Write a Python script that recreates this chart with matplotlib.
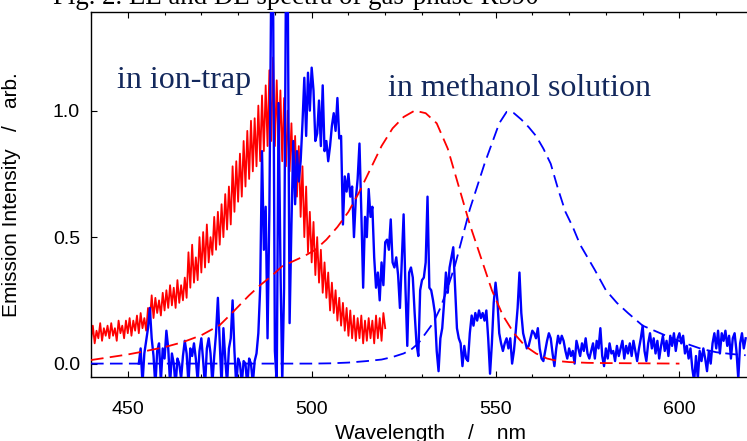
import numpy as np
import matplotlib
matplotlib.use("Agg")
import matplotlib.pyplot as plt

# ---------------- data ----------------
# ion-trap EE spectrum (red, solid): 440 .. 520 nm, 0.5 nm step
red_start, red_step = 440.0, 0.5
red_ion = [
    0.09, 0.15, 0.08, 0.13, 0.10, 0.16, 0.09, 0.14, 0.11, 0.15,
    0.10, 0.16, 0.11, 0.14, 0.09, 0.17, 0.12, 0.15, 0.10, 0.17,
    0.12, 0.18, 0.11, 0.17, 0.13, 0.19, 0.12, 0.20, 0.14, 0.18,
    0.13, 0.22, 0.17, 0.27, 0.18, 0.26, 0.20, 0.25, 0.19, 0.28,
    0.21, 0.29, 0.22, 0.31, 0.23, 0.30, 0.22, 0.33, 0.24, 0.31,
    0.25, 0.34, 0.26, 0.44, 0.30, 0.47, 0.32, 0.42, 0.33, 0.50,
    0.36, 0.52, 0.38, 0.55, 0.40, 0.50, 0.43, 0.58, 0.45, 0.60,
    0.47, 0.63, 0.50, 0.67, 0.53, 0.70, 0.55, 0.78, 0.60, 0.80,
    0.64, 0.83, 0.66, 0.88, 0.70, 0.92, 0.73, 0.96, 0.76, 0.97,
    0.78, 1.02, 0.80, 1.06, 0.84, 1.10, 0.86, 1.16, 0.88, 1.21,
    0.86, 1.12, 0.84, 1.08, 0.80, 1.05, 0.78, 1.00, 0.76, 0.95,
    0.70, 0.90, 0.66, 0.86, 0.58, 0.78, 0.50, 0.70, 0.44, 0.60,
    0.40, 0.56, 0.35, 0.50, 0.32, 0.45, 0.28, 0.40, 0.26, 0.36,
    0.21, 0.32, 0.20, 0.29, 0.17, 0.26, 0.15, 0.24, 0.13, 0.22,
    0.11, 0.21, 0.10, 0.19, 0.09, 0.18, 0.10, 0.19, 0.08, 0.17,
    0.09, 0.18, 0.10, 0.17, 0.08, 0.19, 0.10, 0.18, 0.09, 0.20,
    0.14,
]

# ion-trap DE spectrum (blue, solid): 453 .. 618 nm, 0.5 nm step
blue_start, blue_step = 453.0, 0.5
blue_ion = [
    0.00, 0.06, -0.08, 0.04, 0.09, 0.14, 0.22, 0.10, 0.03, -0.09,
    0.05, 0.08, -0.07, 0.06, 0.02, 0.13, 0.06, -0.08, 0.04, 0.00,
    -0.09, 0.02, 0.00, -0.06, 0.03, 0.09, 0.04, -0.08, 0.06, 0.03,
    0.08, 0.02, -0.07, 0.05, 0.10, 0.01, -0.09, 0.06, 0.10, 0.04,
    -0.08, 0.03, 0.12, 0.26, 0.08, -0.09, 0.14, 0.02, -0.08, 0.06,
    0.10, 0.25, 0.05, -0.09, 0.02, 0.00, -0.08, 0.01, 0.00, -0.09,
    0.02, 0.00, -0.08, 0.01, 0.04, 0.12, 0.30, 0.84, 0.45, 0.62,
    0.10, 0.60, 1.50, 1.50, 0.05, -0.08, 1.03, 0.40, -0.08, 0.30,
    1.50, 1.50, 0.16, 0.55, 0.88, 0.63, 0.84, 0.72, 0.80, 0.95,
    1.13, 0.90, 1.15, 1.00, 1.17, 1.08, 0.88, 0.91, 1.04, 0.86,
    1.10, 0.84, 0.88, 0.80, 0.86, 0.94, 0.99, 0.92, 1.05, 0.89,
    0.90, 0.55, 0.74, 0.68, 0.75, 0.66, 0.70, 0.50, 0.65, 0.73,
    0.87, 0.60, 0.30, 0.58, 0.50, 0.69, 0.58, 0.62, 0.42, 0.30,
    0.36, 0.25, 0.40, 0.31, 0.48, 0.49, 0.45, 0.57, 0.40, 0.38,
    0.42, 0.35, 0.22, 0.40, 0.59, 0.30, 0.07, 0.36, 0.38, 0.34,
    0.20, 0.08, 0.03, 0.29, 0.33, 0.34, 0.40, 0.66, 0.30, 0.29,
    0.25, 0.20, 0.05, -0.03, 0.10, 0.14, 0.24, 0.36, 0.28, 0.38,
    0.42, 0.46, 0.30, 0.14, 0.10, 0.08, -0.01, 0.07, 0.02, 0.01,
    0.12, 0.19, 0.15, 0.20, 0.17, 0.21, 0.18, 0.20, 0.17, 0.21,
    0.10, -0.04, 0.08, 0.24, 0.32, 0.25, 0.12, 0.08, 0.05, 0.08,
    0.10, 0.06, 0.10, 0.00, 0.05, 0.13, 0.22, 0.36, 0.20, 0.12,
    0.09, 0.06, 0.07, 0.10, 0.13, 0.12, 0.10, 0.14, 0.06, 0.02,
    0.01, 0.05, 0.09, 0.12, 0.10, 0.04, -0.01, 0.06, 0.11, 0.08,
    0.11, 0.09, 0.05, 0.02, 0.06, 0.03, 0.05, 0.00, 0.09, 0.06,
    0.03, 0.08, 0.05, 0.10, 0.04, 0.02, 0.05, 0.08, 0.02, 0.09,
    0.06, 0.14, 0.03, -0.01, 0.06, 0.02, 0.08, 0.04, 0.05, 0.01,
    0.07, 0.03, 0.06, 0.09, 0.02, 0.07, 0.04, 0.08, 0.03, 0.09,
    0.05, 0.01, 0.06, 0.10, 0.15, 0.05, 0.01, 0.08, 0.12, 0.06,
    0.10, 0.04, 0.09, 0.02, 0.07, 0.11, 0.05, 0.09, 0.03, 0.11,
    0.07, 0.12, 0.05, 0.10, 0.12, 0.08, 0.11, 0.04, 0.07, 0.02,
    0.06, -0.02, -0.07, 0.03, -0.06, 0.05, 0.01, 0.06, 0.02, -0.03,
    0.05, 0.00, 0.08, 0.12, 0.06, 0.13, 0.04, 0.12, 0.09, 0.13,
    0.07, 0.11, 0.02, 0.10, 0.12, 0.05, -0.06, 0.08, 0.12, 0.06,
    0.10,
]

# methanol-solution spectra (dashed)
red_sol_wl = [440, 445, 450, 455, 460, 465, 470, 475, 478, 480, 483, 486, 489,
              492, 495, 498, 501, 504, 507, 510, 513, 516, 519, 522, 525, 528,
              531, 534, 537, 540, 543, 546, 549, 552, 555, 558, 561, 564, 567,
              570, 575, 580, 590, 600]
red_sol = [0.014, 0.025, 0.036, 0.050, 0.065, 0.085, 0.112, 0.152, 0.195, 0.225,
           0.270, 0.310, 0.345, 0.385, 0.405, 0.425, 0.450, 0.490, 0.540, 0.600,
           0.680, 0.770, 0.860, 0.930, 0.975, 1.000, 0.990, 0.950, 0.850, 0.700,
           0.550, 0.420, 0.290, 0.190, 0.120, 0.070, 0.040, 0.020, 0.010, 0.006,
           0.003, 0.002, 0.001, 0.000]

blue_sol_wl = [440, 460, 480, 500, 505, 510, 515, 519, 522, 525, 527, 529, 531,
               533, 535, 537, 539, 541, 543, 545, 547, 549, 551, 553, 555, 557,
               559, 561, 563, 565, 567, 569, 571, 573, 575, 577, 580, 583, 586,
               590, 594, 598, 602, 606, 610, 614, 618]
blue_sol = [0.000, 0.000, 0.000, 0.000, 0.001, 0.004, 0.010, 0.016, 0.026, 0.040,
            0.055, 0.080, 0.120, 0.160, 0.220, 0.300, 0.390, 0.500, 0.610, 0.700,
            0.790, 0.870, 0.950, 0.995, 0.990, 0.965, 0.935, 0.900, 0.850, 0.790,
            0.690, 0.600, 0.540, 0.470, 0.420, 0.370, 0.290, 0.240, 0.200, 0.150,
            0.125, 0.100, 0.078, 0.058, 0.045, 0.038, 0.033]

x_ticks = [450, 500, 550, 600]
y_ticks = [0.0, 0.5, 1.0]
y_tick_labels = ["0.0", "0.5", "1.0"]

red_wl = red_start + red_step * np.arange(len(red_ion))
blue_wl = blue_start + blue_step * np.arange(len(blue_ion))

# ---------------- figure ----------------
W, H = 747, 441
fig = plt.figure(figsize=(W / 100, H / 100), dpi=100)
ax = fig.add_axes([91 / W, 64 / H, 662 / W, 365 / H])

RED = "#ff0000"
BLUE = "#0000ff"
NAVY = "#13285c"

ax.plot(red_wl, red_ion, color=RED, lw=1.3, zorder=2)
ax.plot(blue_wl, blue_ion, color=BLUE, lw=1.7, zorder=3)
ax.plot(red_sol_wl, red_sol, color=RED, lw=1.3, dashes=(7, 3.5), zorder=4)
ax.plot(blue_sol_wl, blue_sol, color=BLUE, lw=1.3, dashes=(7, 3.5), zorder=4)

ax.set_xlim(440, 620)
ax.set_ylim(-0.053, 1.39)

sans = ["Liberation Sans", "DejaVu Sans"]
serif = ["Liberation Serif", "DejaVu Serif"]

ax.set_xticks(x_ticks)
ax.set_xticks(np.arange(440, 621, 10), minor=True)
ax.set_yticks(y_ticks)
ax.set_yticklabels(y_tick_labels)
for lab in ax.get_xticklabels() + ax.get_yticklabels():
    lab.set_fontfamily(sans)
    lab.set_fontsize(14)

ax.tick_params(axis="both", which="both", direction="in", top=True, right=True,
               width=0.8, color="black")
ax.tick_params(axis="both", which="major", length=4)
ax.tick_params(axis="both", which="minor", length=2.5)
ax.tick_params(axis="x", which="major", pad=17)
ax.tick_params(axis="y", which="major", pad=8)

for s in ["left", "bottom", "top"]:
    ax.spines[s].set_linewidth(1.0)
ax.spines["right"].set_visible(False)

ax.set_ylabel("Emission Intensity   /   arb.", fontfamily=sans, fontsize=15)
ax.yaxis.set_label_coords(-70 / 662, 0.5)
fig.text(430 / W, 1 - 439 / H, "Wavelength    /    nm", fontfamily=sans,
         fontsize=15, ha="center", va="baseline")

ax.text(447.1, 1.09, "in ion-trap", fontfamily=serif, fontsize=23,
        color=NAVY, va="baseline", ha="left")
ax.text(520.7, 1.056, "in methanol solution", fontfamily=serif, fontsize=23,
        color=NAVY, va="baseline", ha="left")

fig.text(53 / W, 1 - 4.5 / H, "Fig. 2. EE and DE spectra of gas-phase R590",
         fontfamily=serif, fontsize=19.4, ha="left", va="baseline")

fig.savefig("out.png", dpi=100)
